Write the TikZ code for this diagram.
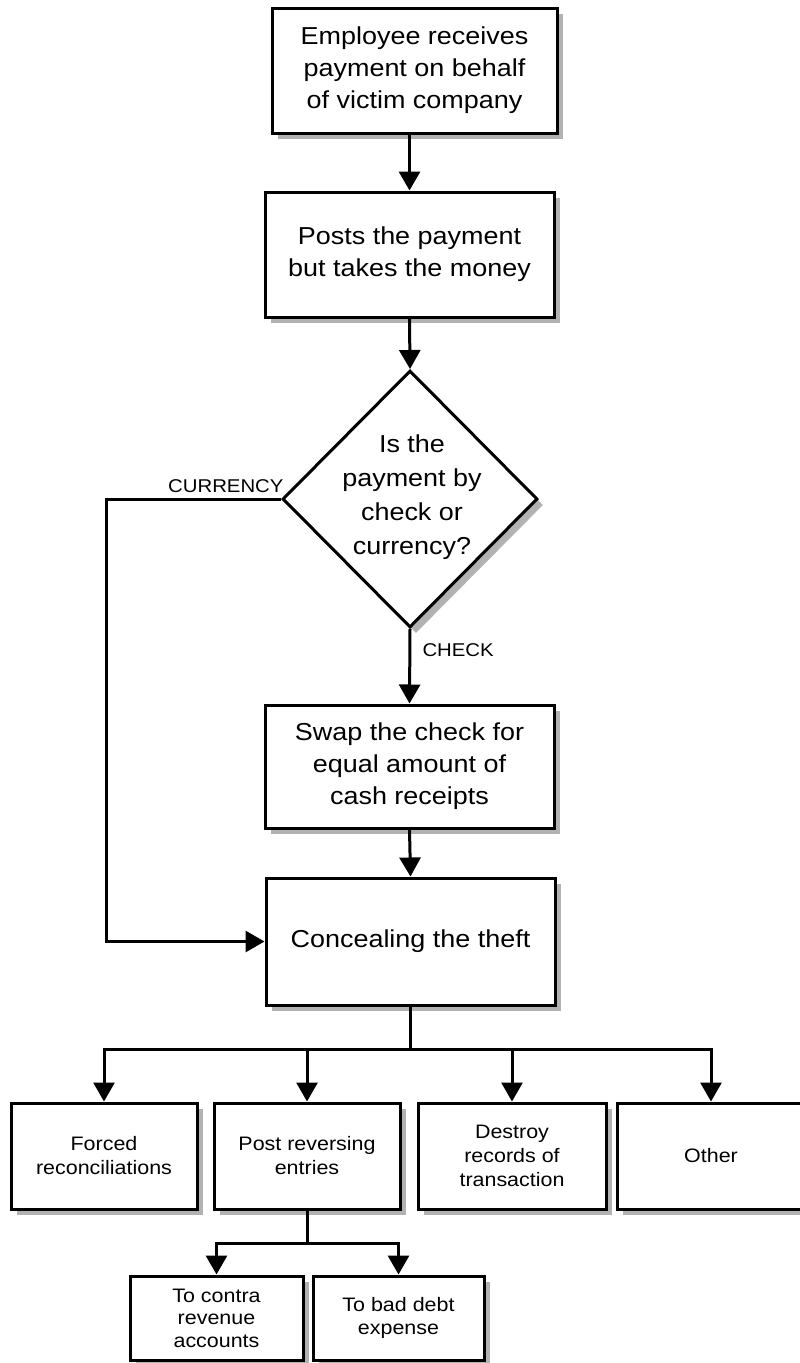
\documentclass[tikz,border=0pt]{standalone}
\usepackage{fontspec}
\setmainfont[FakeStretch=1.1]{Liberation Sans}
\usetikzlibrary{arrows.meta,shapes.geometric,shadows}
\begin{document}
\begin{tikzpicture}[x=1pt,y=-1pt,
  line width=3pt,
  boxshadow/.style={drop shadow={shadow xshift=6pt,shadow yshift=-6pt,fill=black!30,opacity=1}},
  box/.style={draw,fill=white,inner sep=0pt,align=center,boxshadow},
  bigbox/.style={box,font=\fontsize{24.5}{32}\selectfont},
  smallbox/.style={box,font=\fontsize{19.5}{24}\selectfont},
  tinybox/.style={box,font=\fontsize{19.5}{22.5}\selectfont},
  lbl/.style={font=\fontsize{18.5}{22}\selectfont,inner sep=0pt},
  flow/.style={-{Triangle[length=19pt,width=21pt]}},
]
\clip (0,0) rectangle (800,1363);

% main column
\node[bigbox,minimum width=285pt,minimum height=125pt] (b1) at (414.5,70.5)
  {Employee receives\\payment on behalf\\of victim company};
\node[bigbox,minimum width=289pt,minimum height=125pt] (b2) at (409.5,254.5)
  {Posts the payment\\but takes the money};
\node[diamond,draw,fill=white,boxshadow,aspect=1,inner sep=0pt,
      minimum width=255pt,minimum height=257pt] (dec) at (410,499) {};
\node[font=\fontsize{24.5}{34}\selectfont,align=center,inner sep=0pt] (dectext) at (412,497)
  {Is the\\payment by\\check or\\currency?};
\node[bigbox,minimum width=289pt,minimum height=123pt] (b3) at (409.5,766.5)
  {Swap the check for\\equal amount of\\cash receipts};
\node[bigbox,minimum width=289pt,minimum height=127pt] (b4) at (410.5,941.5)
  {Concealing the theft};

% concealment methods
\node[smallbox,minimum width=186pt,minimum height=106pt] (A) at (104,1156)
  {Forced\\reconciliations};
\node[smallbox,minimum width=186pt,minimum height=106pt] (B) at (307,1156)
  {Post reversing\\entries};
\node[smallbox,minimum width=188pt,minimum height=106pt] (C) at (512,1156)
  {Destroy\\records of\\transaction};
\node[smallbox,minimum width=188pt,minimum height=106pt] (D) at (711,1156)
  {Other};

% reversing entry targets
\node[tinybox,minimum width=173pt,minimum height=84pt] (E) at (216.5,1318)
  {To contra\\revenue\\accounts};
\node[tinybox,minimum width=171pt,minimum height=84pt] (F) at (398.5,1318)
  {To bad debt\\expense};

% connectors
\draw[flow] (b1.south -| b2.north) -- (b2.north);
\draw[flow] (b2.south) -- (dec.north);
\draw[flow] (dec.south) -- (b3.north);
\draw[flow] (b3.south) -- (b4.north);
\draw[flow] (dec.west) -- ++(-175,0) |- (b4.west);
\path (dec.west) ++(4,-7) node[lbl,anchor=base east] (lcur) {CURRENCY};
\path (dec.south) ++(11,27) node[lbl,anchor=base west] (lchk) {CHECK};

\coordinate (j1) at (410.5,1049);
\draw[flow] (b4.south) -- (j1) -| (A.north);
\draw[flow] (j1) -| (D.north);
\draw[flow] (j1 -| B.north) -- (B.north);
\draw[flow] (j1 -| C.north) -- (C.north);

\coordinate (j2) at (307,1243);
\draw[flow] (B.south) -- (j2) -| (E.north);
\draw[flow] (j2) -| (F.north);
\end{tikzpicture}
\end{document}
